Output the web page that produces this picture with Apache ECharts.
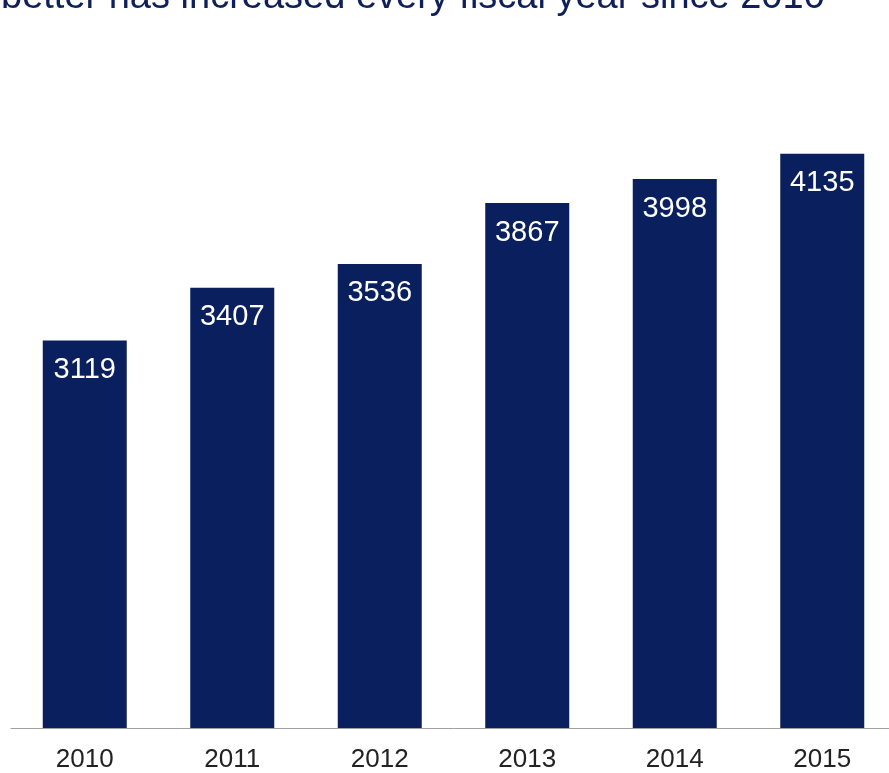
<!DOCTYPE html>
<html>
<head>
<meta charset="utf-8">
<script src="https://cdn.jsdelivr.net/npm/echarts@6/dist/echarts.min.js"></script>
<style>
html,body{margin:0;padding:0;background:#fff;overflow:hidden;width:889px;height:773px;}
#chart{width:900px;height:773px;}
</style>
</head>
<body>
<div id="chart"></div>
<script>
var titleText = 'better has increased every fiscal year since 2010';
var years = ['2010', '2011', '2012', '2013', '2014', '2015'];
var values = [3119, 3407, 3536, 3867, 3998, 4135];

var chart = echarts.init(document.getElementById('chart'), null, {renderer: 'canvas'});
chart.setOption({
  animation: false,
  backgroundColor: '#ffffff',
  title: {
    text: titleText,
    left: 1,
    top: -21,
    padding: 0,
    textStyle: {
      fontFamily: 'Liberation Sans, Arial, sans-serif',
      fontSize: 38,
      fontWeight: 'normal',
      color: '#0f1f5a'
    }
  },
  grid: {left: 11, width: 885, top: 0, bottom: 44, containLabel: false},
  xAxis: {
    type: 'category',
    data: years,
    axisLine: {show: true, lineStyle: {color: '#a0a0a0', width: 1}},
    axisTick: {show: false},
    axisLabel: {
      fontFamily: 'Liberation Sans, Arial, sans-serif',
      fontSize: 26,
      color: '#222222',
      margin: 19
    }
  },
  yAxis: {
    type: 'value',
    min: 1011,
    max: 4972,
    show: false,
    splitLine: {show: false}
  },
  series: [{
    type: 'bar',
    data: values,
    barWidth: 84,
    itemStyle: {color: '#0a1f5e'},
    label: {
      show: true,
      position: 'insideTop',
      distance: 15,
      fontFamily: 'Liberation Sans, Arial, sans-serif',
      fontSize: 29,
      color: '#ffffff'
    }
  }]
});
</script>
</body>
</html>
